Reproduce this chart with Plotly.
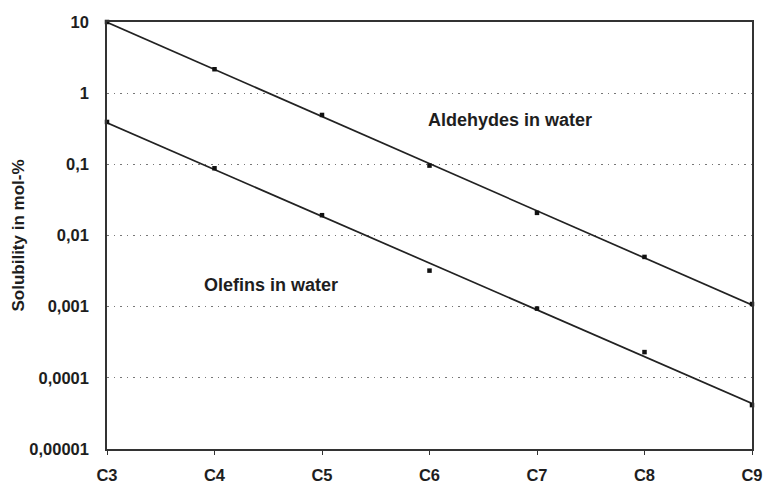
import numpy as np
import plotly.graph_objects as go

categories = ["C3", "C4", "C5", "C6", "C7", "C8", "C9"]
aldehydes = [10, 2.17, 0.494, 0.096, 0.0208, 0.0050, 0.00109]
olefins = [0.394, 0.088, 0.0193, 0.00321, 0.00094, 0.00023, 0.0000414]
ytick_vals = [10, 1, 0.1, 0.01, 0.001, 0.0001, 0.00001]
ytick_text = ["10", "1", "0,1", "0,01", "0,001", "0,0001", "0,00001"]

xpos = np.arange(len(categories))
FONT = "Liberation Sans, Arial, sans-serif"
INK = "#1e1e1e"

fig = go.Figure()
for vals in (aldehydes, olefins):
    slope, icpt = np.polyfit(xpos, np.log10(vals), 1)
    fit = 10 ** (icpt + slope * xpos)
    fig.add_trace(go.Scatter(x=xpos, y=fit, mode="lines",
                             line=dict(color="#222222", width=1.7),
                             showlegend=False, hoverinfo="skip", cliponaxis=False))
    fig.add_trace(go.Scatter(x=xpos, y=vals, mode="markers",
                             marker=dict(symbol="square", size=4.5, color="#111111"),
                             showlegend=False, cliponaxis=False))

fig.add_annotation(x=2.97, y=-0.376, xref="x", yref="y", text="<b>Aldehydes in water</b>",
                   showarrow=False, xanchor="left", yanchor="middle",
                   font=dict(family=FONT, size=18, color=INK))
fig.add_annotation(x=0.88, y=-2.694, xref="x", yref="y", text="<b>Olefins in water</b>",
                   showarrow=False, xanchor="left", yanchor="middle",
                   font=dict(family=FONT, size=18, color=INK))

fig.update_layout(
    width=764, height=485,
    margin=dict(l=107, r=12, t=22, b=36),
    paper_bgcolor="white", plot_bgcolor="white",
    font=dict(family=FONT, size=16, color=INK),
    xaxis=dict(range=[0, 6], tickvals=list(xpos), ticktext=[f"<b>{c}</b>" for c in categories],
               showgrid=False, zeroline=False, showline=True, mirror=True, automargin=False,
               linecolor="#333333", linewidth=1.5, ticks="outside", ticklen=4,
               tickcolor="#333333", ticklabelstandoff=6,
               tickfont=dict(family=FONT, size=16.5, color=INK)),
    yaxis=dict(type="log", range=[-5, 1], tickvals=ytick_vals,
               ticktext=[f"<b>{t}</b>" for t in ytick_text],
               showgrid=True, gridcolor="#777777", griddash="1.5px,5px", gridwidth=1,
               zeroline=False, showline=True, mirror=True, automargin=False,
               linecolor="#333333", linewidth=1.5, ticks="", ticklabelstandoff=13,
               tickfont=dict(family=FONT, size=16.5, color=INK),
               title=dict(text="<b>Solubility in mol-%</b>", standoff=0,
                          font=dict(family=FONT, size=17, color=INK))),
)

fig.write_html("out.html", config={"displayModeBar": False},
               post_script="document.body.style.margin='0';document.body.style.overflow='hidden';")
